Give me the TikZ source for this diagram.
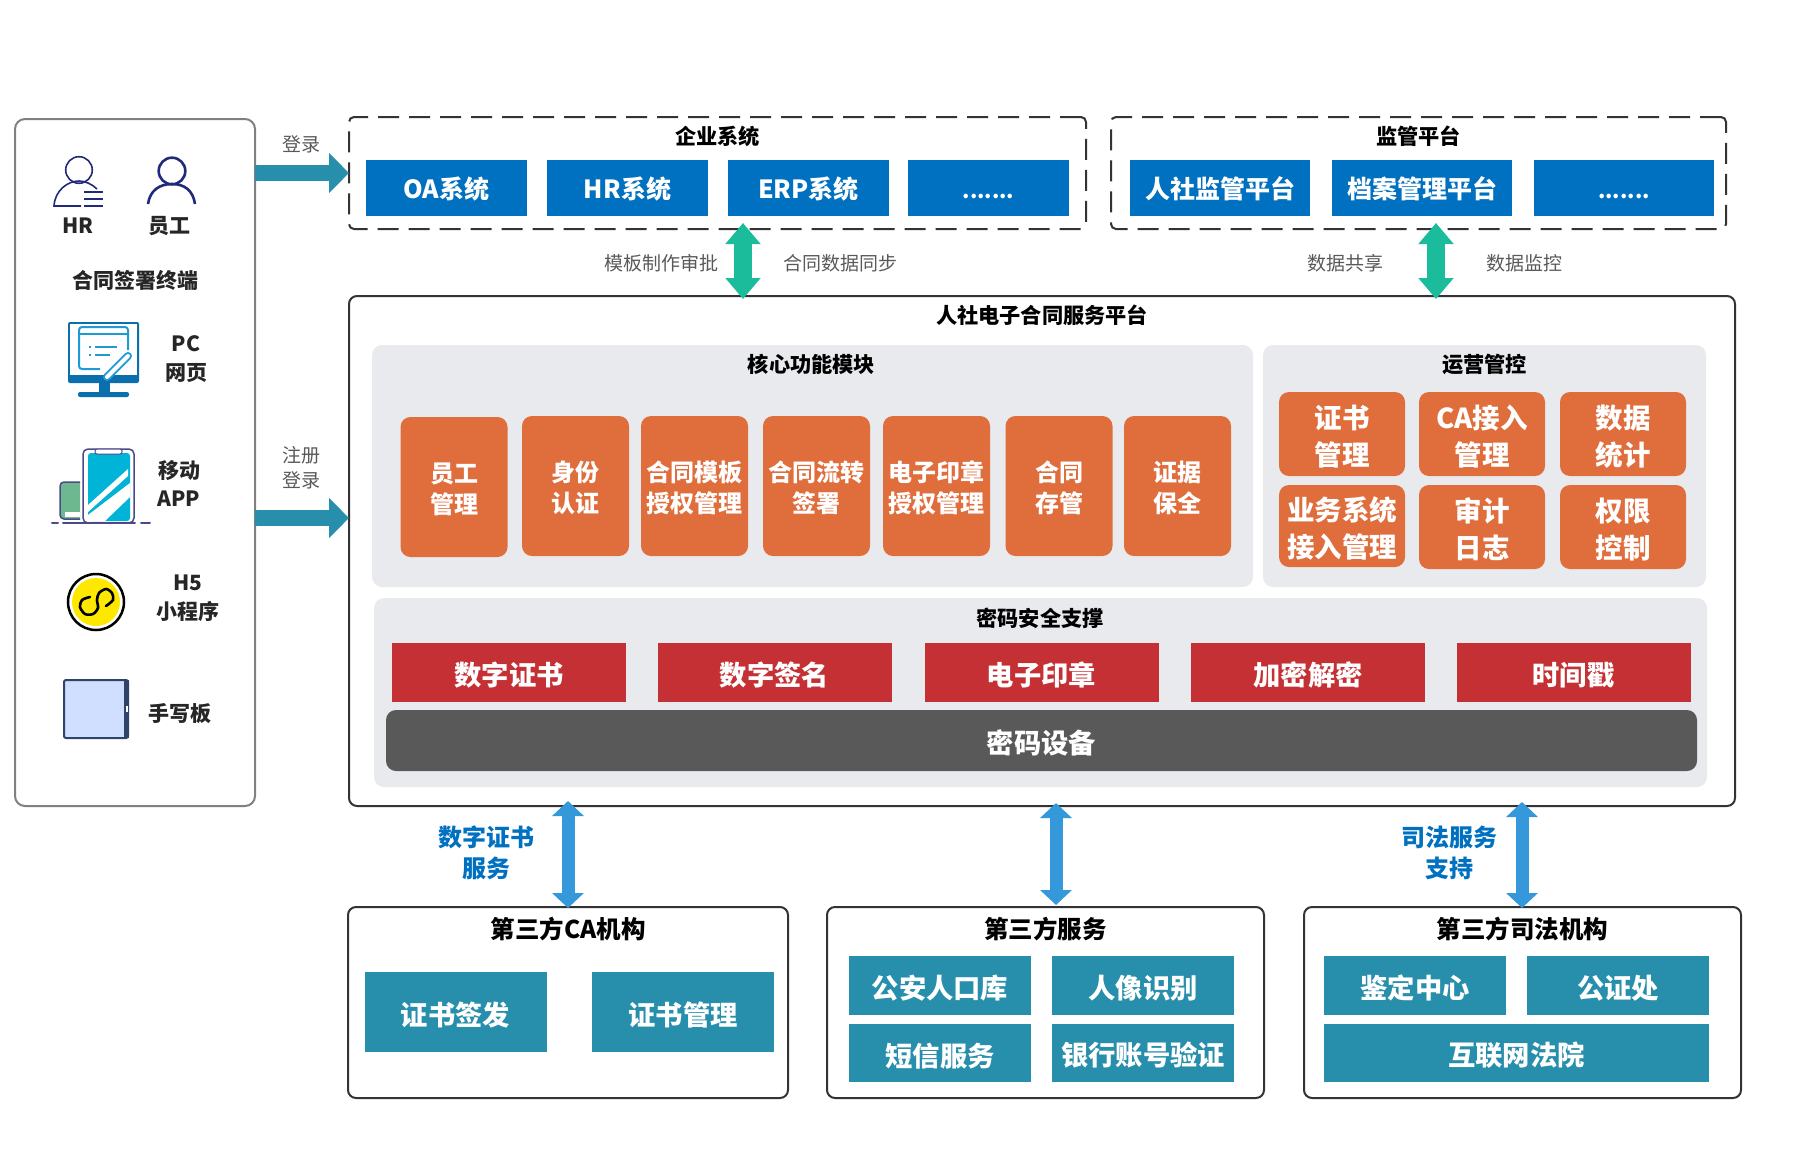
\documentclass[tikz,border=0pt]{standalone}
\usepackage{fontspec}
\setmainfont{Noto Sans CJK SC}
\usetikzlibrary{arrows.meta, positioning}

\definecolor{sysblue}{HTML}{0070C0}
\definecolor{modorange}{HTML}{E06D3C}
\definecolor{cryptored}{HTML}{C53035}
\definecolor{deviceGray}{HTML}{595959}
\definecolor{panelGray}{HTML}{E9EAEE}
\definecolor{tealBox}{HTML}{278EAB}
\definecolor{arrowGreen}{HTML}{1ABC9C}
\definecolor{arrowBlue}{HTML}{3498DB}
\definecolor{frameDark}{HTML}{333333}
\definecolor{iconNavy}{HTML}{1F2A7C}
\definecolor{iconBlue}{HTML}{0B6FAE}
\definecolor{iconSky}{HTML}{1E9BD7}
\definecolor{iconPurple}{HTML}{4A4A8A}
\definecolor{iconCyan}{HTML}{00B4D8}
\definecolor{iconBook}{HTML}{6DB88F}
\definecolor{iconYellow}{HTML}{FFE800}
\definecolor{tabletNavy}{HTML}{2F4468}
\definecolor{tabletFace}{HTML}{D0DFFF}

\newcommand{\liftLine}{\rule{0pt}{1.04em}}

\tikzset{
    lift/.style={execute at begin node={\rule{0pt}{#1}}},
    fillbox/.style={inner sep=0pt, outer sep=0pt, text=white, align=center},
    sysBox/.style={fillbox, lift=0.97em, fill=sysblue, minimum width=161pt, minimum height=56pt, font=\fontsize{25}{30}\selectfont\bfseries},
    wideSysBox/.style={sysBox, minimum width=180pt},
    modBox/.style={fillbox, fill=modorange, rounded corners=10pt, minimum width=107pt, minimum height=140pt, font=\fontsize{24}{31}\selectfont\bfseries},
    opsBox/.style={fillbox, fill=modorange, rounded corners=10pt, minimum width=126pt, minimum height=84pt, font=\fontsize{27.5}{36.5}\selectfont\bfseries},
    cryptoBox/.style={fillbox, lift=1.05em, fill=cryptored, minimum width=234pt, minimum height=59pt, font=\fontsize{27.3}{32}\selectfont\bfseries},
    thirdBox/.style={fillbox, lift=1.05em, fill=tealBox, minimum width=182pt, font=\fontsize{27.3}{32}\selectfont\bfseries},
    panel/.style={inner sep=0pt, outer sep=0pt, fill=panelGray, rounded corners=10pt},
    frame/.style={inner sep=0pt, outer sep=0pt, draw=frameDark, line width=2pt, rounded corners=8pt},
    dashFrame/.style={frame, dash pattern=on 21pt off 10pt, rounded corners=5pt},
    head/.style={inner sep=0pt, font=\fontsize{21.2}{26}\selectfont\bfseries},
    bigHead/.style={inner sep=0pt, font=\fontsize{24.5}{29}\selectfont\bfseries},
    grayLabel/.style={inner sep=0pt, align=center, text=deviceGray, font=\fontsize{19}{25}\selectfont},
    blueLabel/.style={inner sep=0pt, align=center, text=sysblue, font=\fontsize{24}{31}\selectfont\bfseries},
    termLabel/.style={inner sep=0pt, align=center, text=black!85, font=\fontsize{21}{28.5}\selectfont\bfseries},
    dotsLabel/.style={inner sep=0pt, text=white, font=\fontsize{21}{26}\selectfont\bfseries},
    loginArrow/.style={draw=tealBox, line width=16pt, arrows={-Triangle[length=20pt,width=39pt]}},
    greenArrow/.style={draw=arrowGreen, line width=18pt, arrows={Triangle[length=21pt,width=34pt]-Triangle[length=21pt,width=34pt]}},
    blueArrow/.style={draw=arrowBlue, line width=13pt, arrows={Triangle[length=15pt,width=31pt]-Triangle[length=15pt,width=31pt]}}
}

\begin{document}
\begin{tikzpicture}[x=1pt, y=-1pt, node distance=20pt]
    \useasboundingbox (0,0) rectangle (1806,1165);

    \node[frame, draw=gray, minimum width=240pt, minimum height=687pt, rounded corners=10pt] (terminal) at (135,462.5) {};

    \node[dashFrame, minimum width=737pt, minimum height=112pt] (enterprise) at (717.5,173) {};
    \node[head] (enterpriseTitle) at (717.5,136) {企业系统};
    \node[sysBox] (oaSystem) at (446.5,188) {OA系统};
    \node[sysBox, right=of oaSystem] (hrSystem) {HR系统};
    \node[sysBox, right=of hrSystem] (erpSystem) {ERP系统};
    \node[sysBox, right=19pt of erpSystem] (moreSystem) {};
    \node[dotsLabel] (moreSystemDots) at (moreSystem.center |- 0,196) {.......};

    \node[dashFrame, minimum width=615pt, minimum height=112pt] (regulator) at (1418.5,173) {};
    \node[head] (regulatorTitle) at (1418.5,136) {监管平台};
    \node[wideSysBox] (hrssPlatform) at (1220,188) {人社监管平台};
    \node[wideSysBox, right=22pt of hrssPlatform] (archivePlatform) {档案管理平台};
    \node[wideSysBox, right=22pt of archivePlatform] (morePlatform) {};
    \node[dotsLabel] (morePlatformDots) at (morePlatform.center |- 0,196) {.......};

    \node[frame, minimum width=1386pt, minimum height=510pt] (platform) at (1042,551) {};
    \node[head] (platformTitle) at (1042,315.5) {人社电子合同服务平台};

    \node[panel, minimum width=881pt, minimum height=242pt] (corePanel) at (812.5,466) {};
    \node[head] (coreTitle) at (811.5,364) {核心功能模块};
    \node[modBox] (staffMod) at (454,487) {\liftLine 员工\\管理};
    \node[modBox] (identityMod) at (575.5,486) {\liftLine 身份\\认证};
    \node[modBox] (templateMod) at (694.5,486) {\liftLine 合同模板\\授权管理};
    \node[modBox] (flowMod) at (816.5,486) {\liftLine 合同流转\\签署};
    \node[modBox] (sealMod) at (936.5,486) {\liftLine 电子印章\\授权管理};
    \node[modBox] (storeMod) at (1059,486) {\liftLine 合同\\存管};
    \node[modBox] (evidenceMod) at (1177.5,486) {\liftLine 证据\\保全};

    \node[panel, minimum width=443pt, minimum height=242pt] (opsPanel) at (1484.5,466) {};
    \node[head] (opsTitle) at (1484.5,364) {运营管控};
    \node[opsBox] (certOps) at (1342,434) {\liftLine 证书\\管理};
    \node[opsBox] (caOps) at (1482,434) {\liftLine CA接入\\管理};
    \node[opsBox] (statOps) at (1623,434) {\liftLine 数据\\统计};
    \node[opsBox, minimum height=82pt] (accessOps) at (1342,526) {\liftLine 业务系统\\接入管理};
    \node[opsBox] (auditOps) at (1482,527) {\liftLine 审计\\日志};
    \node[opsBox] (rightOps) at (1623,527) {\liftLine 权限\\控制};

    \node[panel, minimum width=1333pt, minimum height=189pt] (cryptoPanel) at (1040.5,692.5) {};
    \node[head] (cryptoTitle) at (1040,618) {密码安全支撑};
    \node[cryptoBox] (certCrypto) at (509,672.5) {数字证书};
    \node[cryptoBox] (signCrypto) at (774.5,672.5) {数字签名};
    \node[cryptoBox] (sealCrypto) at (1041.5,672.5) {电子印章};
    \node[cryptoBox] (encryptCrypto) at (1308,672.5) {加密解密};
    \node[cryptoBox] (timeCrypto) at (1573.5,672.5) {时间戳};
    \node[fillbox, lift=1.05em, fill=deviceGray, rounded corners=10pt, minimum width=1311pt, minimum height=61pt, font=\fontsize{27.3}{32}\selectfont\bfseries] (cryptoDevice) at (1041.5,740.5) {密码设备};

    \node[frame, minimum width=440pt, minimum height=191pt] (caOrg) at (568,1002.5) {};
    \node[bigHead] (caTitle) at (568,929) {第三方CA机构};
    \node[thirdBox, minimum height=80pt] (issueBox) at (455.5,1012) {证书签发};
    \node[thirdBox, minimum height=80pt] (certBox) at (683,1012) {证书管理};

    \node[frame, minimum width=437pt, minimum height=191pt] (thirdOrg) at (1045.5,1002.5) {};
    \node[bigHead] (thirdTitle) at (1045.5,929) {第三方服务};
    \node[thirdBox, minimum height=59pt] (policeBox) at (940,985.5) {公安人口库};
    \node[thirdBox, minimum height=59pt] (faceBox) at (1143,985.5) {人像识别};
    \node[thirdBox, minimum height=58pt] (smsBox) at (940,1053) {短信服务};
    \node[thirdBox, minimum height=58pt] (bankBox) at (1143,1053) {银行账号验证};

    \node[frame, minimum width=437pt, minimum height=191pt] (lawOrg) at (1522.5,1002.5) {};
    \node[bigHead] (lawTitle) at (1522.5,929) {第三方司法机构};
    \node[thirdBox, minimum height=59pt] (appraiseBox) at (1415,985.5) {鉴定中心};
    \node[thirdBox, minimum height=59pt] (notaryBox) at (1618,985.5) {公证处};
    \node[thirdBox, minimum width=385pt, minimum height=58pt] (courtBox) at (1516.5,1053) {互联网法院};

    \node[grayLabel] (loginLabel) at (301,144) {登录};
    \node[grayLabel] (registerLabel) at (301,468) {注册\\登录};
    \node[grayLabel] (approveLabel) at (661,263) {模板制作审批};
    \node[grayLabel] (syncLabel) at (840,263) {合同数据同步};
    \node[grayLabel] (shareLabel) at (1345,263) {数据共享};
    \node[grayLabel] (monitorLabel) at (1524,263) {数据监控};
    \node[blueLabel] (certServiceLabel) at (486,853) {数字证书\\服务};
    \node[blueLabel] (lawServiceLabel) at (1449,853) {司法服务\\支持};

    \coordinate (registerStart) at (terminal.east |- 0,518);
    \coordinate (registerEnd) at (platform.west |- 0,518);
    \coordinate (syncTop) at (743,223);
    \coordinate (syncBottom) at (743,299);
    \coordinate (shareTop) at (1436,223);
    \coordinate (shareBottom) at (1436,299);
    \coordinate (certTop) at (568,801);
    \coordinate (certBottom) at (568,908);
    \coordinate (thirdTop) at (1056,803);
    \coordinate (thirdBottom) at (1056,905);
    \coordinate (lawTop) at (1522,802);
    \coordinate (lawBottom) at (1522,908);

    \draw[loginArrow] (terminal.east |- enterprise.west) -- (enterprise.west);
    \draw[loginArrow] (registerStart) -- (registerEnd);
    \draw[greenArrow] (syncTop) -- (syncBottom);
    \draw[greenArrow] (shareTop) -- (shareBottom);
    \draw[blueArrow] (certTop) -- (certBottom);
    \draw[blueArrow] (thirdTop) -- (thirdBottom);
    \draw[blueArrow] (lawTop) -- (lawBottom);

    \draw[iconNavy, line width=1.6pt] (79,170) circle (13.3);
    \draw[iconNavy, line width=1.6pt] (97,189) .. controls (92,184) and (85,181) .. (79,181) .. controls (68,181) and (55,190) .. (54,206) -- (81,206);
    \draw[iconNavy, line width=1.6pt] (84,192) -- (103,192) (84,199) -- (103,199) (84,206) -- (103,206);
    \node[termLabel] (hrLabel) at (78,226) {HR};
    \draw[iconNavy, line width=2.6pt] (172,171) circle (13.3);
    \draw[iconNavy, line width=2.6pt] (148,204) .. controls (150,190) and (160,184) .. (172,184) .. controls (184,184) and (193,190) .. (195,204);
    \node[termLabel] (staffLabel) at (169,226) {员工};
    \node[termLabel] (terminalTitle) at (135,280) {合同签署终端};

    \fill[iconBlue, rounded corners=2pt] (68,322) rectangle (139,383);
    \fill[white] (70,324) rectangle (137,375);
    \fill[iconBlue] (99,383) rectangle (110,393);
    \fill[iconBlue, rounded corners=2pt] (78,392) rectangle (129,397);
    \draw[iconSky, line width=2pt, rounded corners=3pt] (100,369) -- (79,369) -- (79,327) -- (128,327) -- (128,350);
    \draw[iconSky, line width=2pt] (79,334) -- (128,334);
    \draw[iconSky, line width=2pt] (89,347) -- (91,347) (95,347) -- (117,347) (89,355) -- (91,355) (95,355) -- (110,355);
    \draw[iconSky, line width=8pt, line cap=round] (128,356) -- (107,377);
    \draw[white, line width=4pt, line cap=round] (128,356) -- (107,377);
    \node[termLabel] (pcLabel) at (186,359) {PC\\网页};

    \draw[iconPurple, fill=iconBook, line width=1.5pt, rounded corners=4pt] (80,482) -- (60,482) -- (60,519) -- (80,519);
    \fill[white] (65,512) rectangle (80,517);
    \draw[iconPurple, fill=white, line width=1.5pt, rounded corners=5pt] (83,449) rectangle (134,523);
    \fill[iconCyan, rounded corners=3pt] (88,453) rectangle (130,521);
    \fill[white] (128,469) -- (88,505) -- (88,512) -- (128,476) -- cycle;
    \fill[white] (130,483) -- (88,515) -- (88,521) -- (105,521) -- (130,497) -- cycle;
    \draw[iconPurple, fill=white, line width=1pt, rounded corners=2pt] (95,449) rectangle (122,454);
    \draw[iconPurple, line width=2pt, line cap=round] (52,523) -- (58,523) (63,523) -- (135,523) (141,523) -- (150,523);
    \node[termLabel] (appLabel) at (179,483.5) {移动\\APP};

    \draw[black, fill=white, line width=2.5pt] (96,602) circle (28);
    \fill[iconYellow] (96,602) circle (24);
    \draw[black, line width=2.6pt, line cap=round] plot[smooth] coordinates {(90,597) (82,600) (80,607) (85,614) (93,614) (98,608) (97,600) (99,593) (106,589) (112,593) (113,600) (106,606)};
    \node[termLabel] (h5Label) at (188,598) {H5\\小程序};

    \draw[tabletNavy, fill=tabletFace, line width=2pt, rounded corners=2pt] (64,680) rectangle (128,738);
    \fill[tabletNavy] (124,680) rectangle (129,738);
    \fill[white] (125.5,706) rectangle (127.5,712);
    \node[termLabel] (padLabel) at (180,714) {手写板};
\end{tikzpicture}
\end{document}
